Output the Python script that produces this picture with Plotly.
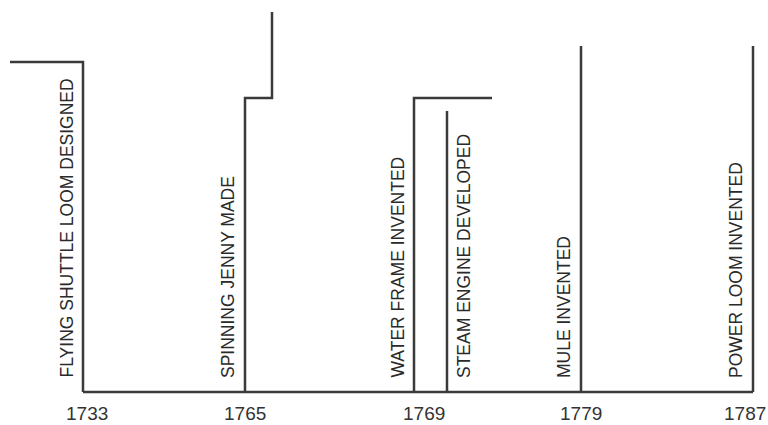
import plotly.graph_objects as go

# Timeline data
event_names = [
    "FLYING SHUTTLE LOOM DESIGNED",
    "SPINNING JENNY MADE",
    "WATER FRAME INVENTED",
    "STEAM ENGINE DEVELOPED",
    "MULE INVENTED",
    "POWER LOOM INVENTED",
]
event_pos = [83, 245, 414, 447, 581, 753]          # schematic timeline position
stem_height = [330, 294, 294, 281, 346, 346]       # height of each event stem
arm_dx = [-73, 27, 78, 0, 0, 0]                    # horizontal arm at top of stem
arm_rise = [0, 86, 0, 0, 0, 0]                     # extra rise after the arm
label_side = [-1, -1, -1, 1, -1, -1]               # label left (-1) or right (+1) of stem

year_labels = ["1733", "1765", "1769", "1779", "1787"]
year_pos = [87, 245, 424, 581, 745]

LINE = "#3a3a3a"
FONT = "Liberation Sans, Arial"
fig = go.Figure()

# baseline
fig.add_trace(go.Scatter(x=[event_pos[0], event_pos[-1]], y=[0, 0], mode="lines",
                         line=dict(color=LINE, width=2.5), hoverinfo="skip"))

for name, p, h, dx, rise, side in zip(event_names, event_pos, stem_height, arm_dx, arm_rise, label_side):
    xs = [p, p]
    ys = [0, h]
    if dx != 0:
        xs.append(p + dx)
        ys.append(h)
    if rise != 0:
        xs.append(p + dx)
        ys.append(h + rise)
    fig.add_trace(go.Scatter(x=xs, y=ys, mode="lines",
                             line=dict(color=LINE, width=2.5), hoverinfo="skip"))
    fig.add_annotation(x=p + side * 17, y=12, text=name, textangle=-90,
                       showarrow=False, xanchor="center", yanchor="bottom",
                       font=dict(family=FONT, size=17.5, color="#2a2a2a"))

fig.update_layout(
    width=768, height=425,
    margin=dict(l=0, r=0, t=0, b=0),
    paper_bgcolor="white", plot_bgcolor="white",
    showlegend=False,
    xaxis=dict(range=[0, 768], showgrid=False, zeroline=False, showline=False,
               showticklabels=False, fixedrange=True),
    yaxis=dict(range=[-33, 392], showgrid=False, zeroline=False, showline=False,
               showticklabels=False, fixedrange=True),
)

for t, xp in zip(year_labels, year_pos):
    fig.add_annotation(x=xp, y=-21, text=t, showarrow=False, xanchor="center", yanchor="middle",
                       font=dict(family=FONT, size=19, color="#333333"))

fig.write_html("out.html", config={"displayModeBar": False},
               post_script="document.body.style.margin='0';document.body.style.overflow='hidden';")
